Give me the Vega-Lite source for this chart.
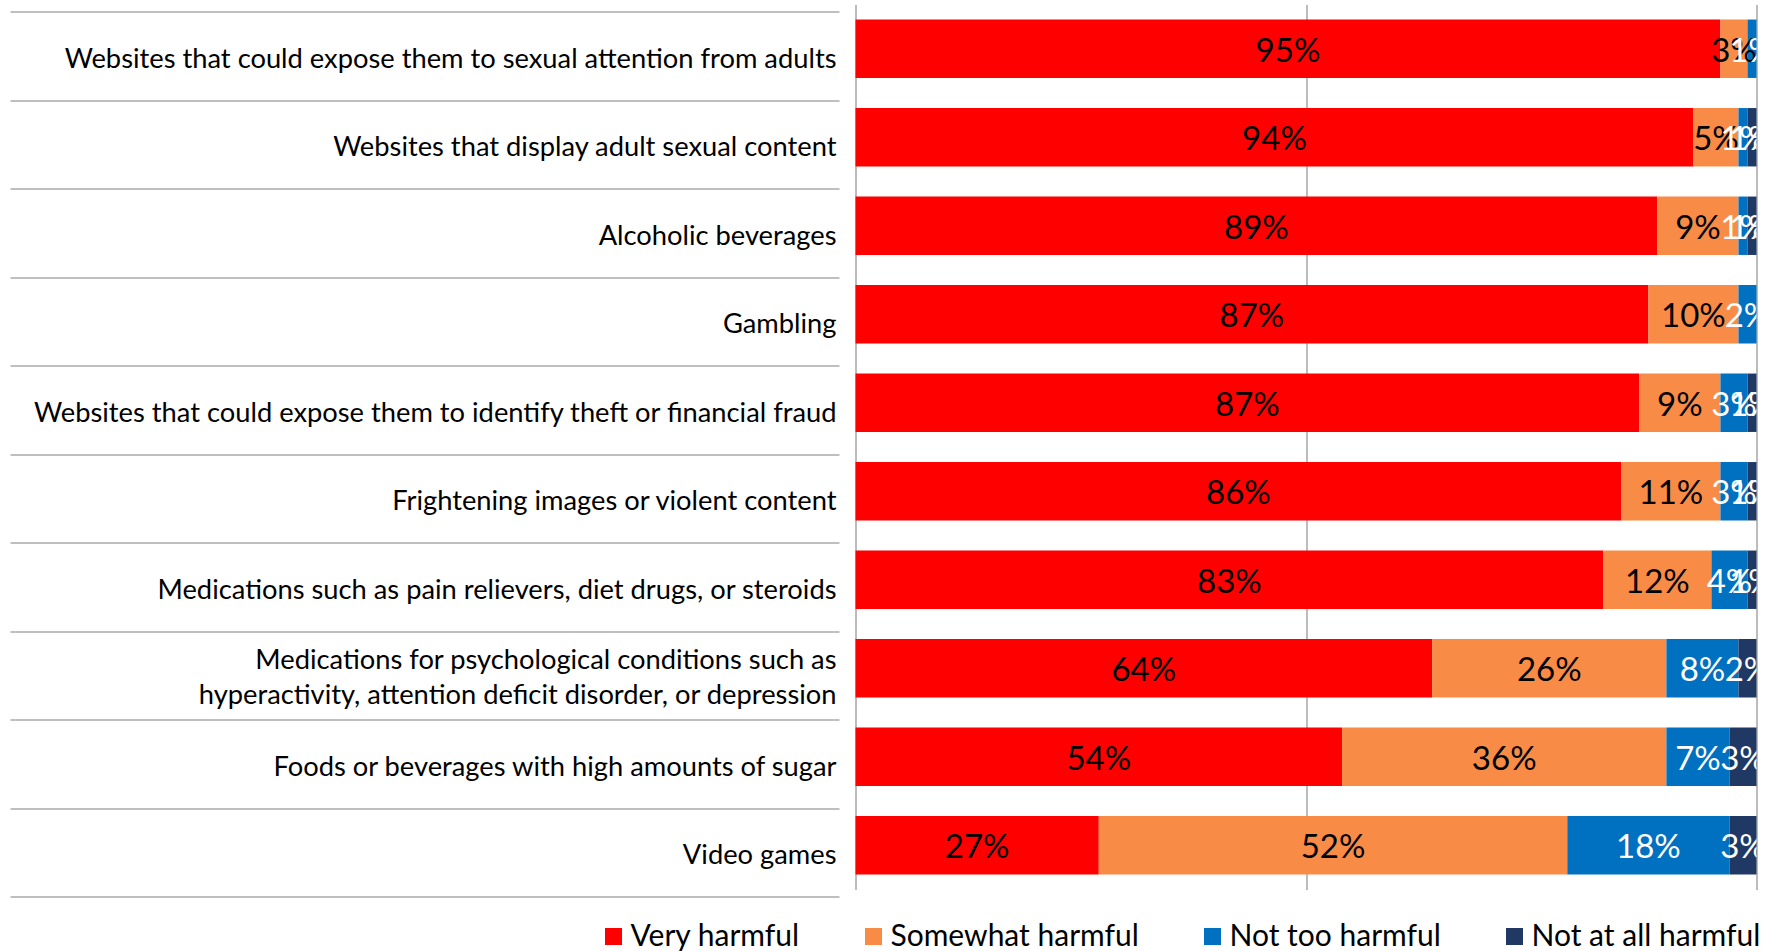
{
  "$schema": "https://vega.github.io/schema/vega-lite/v6.json",
  "width": 901,
  "height": 885,
  "autosize": {"type": "none"},
  "padding": {"left": 855.5, "top": 4.5, "right": 15.5, "bottom": 61.5},
  "background": "white",
  "config": {"view": {"stroke": null}, "font": "Lato"},
  "data": {
    "values": [
      {"item": "Websites that could expose them to sexual attention from adults", "rating": "Very harmful", "value": 96, "label": "95%"},
      {"item": "Websites that could expose them to sexual attention from adults", "rating": "Somewhat harmful", "value": 3, "label": "3%"},
      {"item": "Websites that could expose them to sexual attention from adults", "rating": "Not too harmful", "value": 1, "label": "1%"},
      {"item": "Websites that display adult sexual content", "rating": "Very harmful", "value": 93, "label": "94%"},
      {"item": "Websites that display adult sexual content", "rating": "Somewhat harmful", "value": 5, "label": "5%"},
      {"item": "Websites that display adult sexual content", "rating": "Not too harmful", "value": 1, "label": "1%"},
      {"item": "Websites that display adult sexual content", "rating": "Not at all harmful", "value": 1, "label": "1%"},
      {"item": "Alcoholic beverages", "rating": "Very harmful", "value": 89, "label": "89%"},
      {"item": "Alcoholic beverages", "rating": "Somewhat harmful", "value": 9, "label": "9%"},
      {"item": "Alcoholic beverages", "rating": "Not too harmful", "value": 1, "label": "1%"},
      {"item": "Alcoholic beverages", "rating": "Not at all harmful", "value": 1, "label": "1%"},
      {"item": "Gambling", "rating": "Very harmful", "value": 88, "label": "87%"},
      {"item": "Gambling", "rating": "Somewhat harmful", "value": 10, "label": "10%"},
      {"item": "Gambling", "rating": "Not too harmful", "value": 2, "label": "2%"},
      {"item": "Websites that could expose them to identify theft or financial fraud", "rating": "Very harmful", "value": 87, "label": "87%"},
      {"item": "Websites that could expose them to identify theft or financial fraud", "rating": "Somewhat harmful", "value": 9, "label": "9%"},
      {"item": "Websites that could expose them to identify theft or financial fraud", "rating": "Not too harmful", "value": 3, "label": "3%"},
      {"item": "Websites that could expose them to identify theft or financial fraud", "rating": "Not at all harmful", "value": 1, "label": "1%"},
      {"item": "Frightening images or violent content", "rating": "Very harmful", "value": 85, "label": "86%"},
      {"item": "Frightening images or violent content", "rating": "Somewhat harmful", "value": 11, "label": "11%"},
      {"item": "Frightening images or violent content", "rating": "Not too harmful", "value": 3, "label": "3%"},
      {"item": "Frightening images or violent content", "rating": "Not at all harmful", "value": 1, "label": "1%"},
      {"item": "Medications such as pain relievers, diet drugs, or steroids", "rating": "Very harmful", "value": 83, "label": "83%"},
      {"item": "Medications such as pain relievers, diet drugs, or steroids", "rating": "Somewhat harmful", "value": 12, "label": "12%"},
      {"item": "Medications such as pain relievers, diet drugs, or steroids", "rating": "Not too harmful", "value": 4, "label": "4%"},
      {"item": "Medications such as pain relievers, diet drugs, or steroids", "rating": "Not at all harmful", "value": 1, "label": "1%"},
      {"item": "Medications for psychological conditions such as hyperactivity, attention deficit disorder, or depression", "rating": "Very harmful", "value": 64, "label": "64%"},
      {"item": "Medications for psychological conditions such as hyperactivity, attention deficit disorder, or depression", "rating": "Somewhat harmful", "value": 26, "label": "26%"},
      {"item": "Medications for psychological conditions such as hyperactivity, attention deficit disorder, or depression", "rating": "Not too harmful", "value": 8, "label": "8%"},
      {"item": "Medications for psychological conditions such as hyperactivity, attention deficit disorder, or depression", "rating": "Not at all harmful", "value": 2, "label": "2%"},
      {"item": "Foods or beverages with high amounts of sugar", "rating": "Very harmful", "value": 54, "label": "54%"},
      {"item": "Foods or beverages with high amounts of sugar", "rating": "Somewhat harmful", "value": 36, "label": "36%"},
      {"item": "Foods or beverages with high amounts of sugar", "rating": "Not too harmful", "value": 7, "label": "7%"},
      {"item": "Foods or beverages with high amounts of sugar", "rating": "Not at all harmful", "value": 3, "label": "3%"},
      {"item": "Video games", "rating": "Very harmful", "value": 27, "label": "27%"},
      {"item": "Video games", "rating": "Somewhat harmful", "value": 52, "label": "52%"},
      {"item": "Video games", "rating": "Not too harmful", "value": 18, "label": "18%"},
      {"item": "Video games", "rating": "Not at all harmful", "value": 3, "label": "3%"}
    ]
  },
  "transform": [
    {"stack": "value", "groupby": ["item"], "sort": [{"field": "rating", "order": "descending"}], "as": ["x0", "x1"]}
  ],
  "layer": [
    {
      "mark": {"type": "bar", "height": {"band": 0.66}},
      "encoding": {
        "y": {
          "field": "item", "type": "nominal",
          "sort": [
            "Websites that could expose them to sexual attention from adults",
            "Websites that display adult sexual content",
            "Alcoholic beverages",
            "Gambling",
            "Websites that could expose them to identify theft or financial fraud",
            "Frightening images or violent content",
            "Medications such as pain relievers, diet drugs, or steroids",
            "Medications for psychological conditions such as hyperactivity, attention deficit disorder, or depression",
            "Foods or beverages with high amounts of sugar",
            "Video games"
          ],
          "scale": {"paddingInner": 0, "paddingOuter": 0},
          "axis": {
            "title": null,
            "domain": false,
            "offset": 23.5,
            "translate": 7.5,
            "ticks": true,
            "tickSize": 829,
            "tickWidth": 2,
            "tickColor": "#BFBFBF",
            "tickBand": "extent",
            "labelPadding": -826,
            "labelOffset": {"condition": {"test": "indexof(datum.label, 'such as hyper') >= 0", "value": -15}, "value": 3.5},
            "labelFont": "Lato",
            "labelFontSize": 27.3,
            "labelColor": "#000000",
            "labelLimit": 1000,
            "labelLineHeight": 35,
            "labelExpr": "indexof(datum.label, 'such as hyper') >= 0 ? ['Medications for psychological conditions such as', 'hyperactivity, attention deficit disorder, or depression'] : datum.label",
            "grid": false
          }
        },
        "x": {
          "field": "x0", "type": "quantitative",
          "scale": {"domain": [0, 100], "nice": false},
          "axis": {"title": null, "labels": false, "ticks": false, "domain": false, "grid": true, "values": [0, 50, 100], "gridColor": "#A6A6A6", "gridWidth": 1.5}
        },
        "x2": {"field": "x1"},
        "color": {
          "field": "rating", "type": "nominal",
          "scale": {
            "domain": ["Very harmful", "Somewhat harmful", "Not too harmful", "Not at all harmful"],
            "range": ["#FF0000", "#F88B46", "#0070C0", "#1F3864"]
          },
          "legend": {
            "orient": "none",
            "legendX": -257,
            "legendY": 917,
            "direction": "horizontal",
            "title": null,
            "symbolType": "square",
            "symbolSize": 289,
            "symbolOpacity": 1,
            "symbolStrokeWidth": 0,
            "labelFont": "Lato",
            "labelFontSize": 30,
            "labelColor": "#000000",
            "labelOffset": 2,
            "columnPadding": 58,
            "labelLimit": 500
          }
        }
      }
    },
    {
      "transform": [
        {"fold": ["x0", "x1"], "as": ["edge", "pos"]},
        {"aggregate": [{"op": "mean", "field": "pos", "as": "mid"}], "groupby": ["item", "rating", "label"]}
      ],
      "mark": {"type": "text", "font": "Lato", "fontSize": 33, "baseline": "middle", "align": "center", "clip": true, "dy": 3},
      "encoding": {
        "y": {
          "field": "item", "type": "nominal",
          "sort": [
            "Websites that could expose them to sexual attention from adults",
            "Websites that display adult sexual content",
            "Alcoholic beverages",
            "Gambling",
            "Websites that could expose them to identify theft or financial fraud",
            "Frightening images or violent content",
            "Medications such as pain relievers, diet drugs, or steroids",
            "Medications for psychological conditions such as hyperactivity, attention deficit disorder, or depression",
            "Foods or beverages with high amounts of sugar",
            "Video games"
          ]
        },
        "x": {"field": "mid", "type": "quantitative"},
        "text": {"field": "label"},
        "color": {
          "condition": {"test": "datum.rating == 'Very harmful' || datum.rating == 'Somewhat harmful'", "value": "#000000"},
          "value": "#FFFFFF"
        }
      }
    }
  ]
}
